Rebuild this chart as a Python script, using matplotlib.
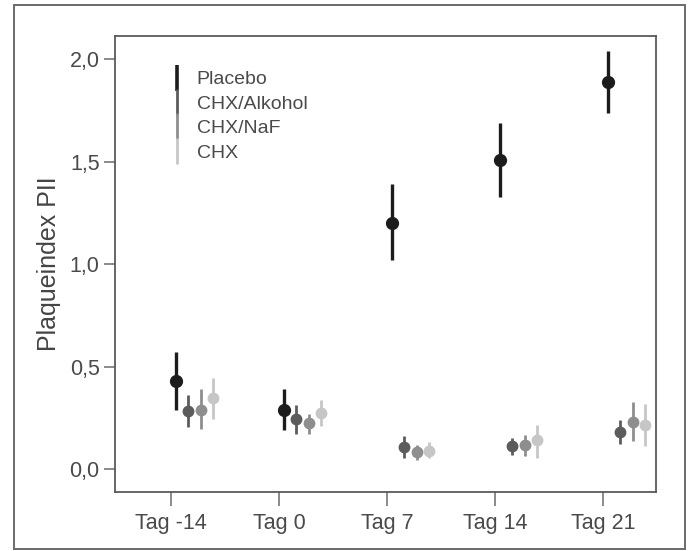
import numpy as np
import matplotlib
matplotlib.use("Agg")
import matplotlib.pyplot as plt
from matplotlib.patches import Rectangle
from matplotlib.lines import Line2D

plt.rcParams['font.family'] = ['Liberation Sans', 'DejaVu Sans']

# --- Daten ---
tage = ["Tag -14", "Tag 0", "Tag 7", "Tag 14", "Tag 21"]
gruppen = ["Placebo", "CHX/Alkohol", "CHX/NaF", "CHX"]

placebo = [0.43, 0.29, 1.20, 1.51, 1.89]
placebo_lo = [0.29, 0.19, 1.02, 1.33, 1.74]
placebo_hi = [0.57, 0.39, 1.39, 1.69, 2.04]

alkohol = [0.285, 0.245, 0.105, 0.11, 0.18]
alkohol_lo = [0.205, 0.17, 0.055, 0.07, 0.12]
alkohol_hi = [0.36, 0.31, 0.16, 0.15, 0.24]

naf = [0.29, 0.225, 0.085, 0.115, 0.23]
naf_lo = [0.195, 0.17, 0.045, 0.065, 0.135]
naf_hi = [0.39, 0.27, 0.115, 0.165, 0.325]

chx = [0.345, 0.275, 0.09, 0.14, 0.215]
chx_lo = [0.245, 0.21, 0.055, 0.055, 0.11]
chx_hi = [0.445, 0.335, 0.13, 0.215, 0.315]

farben = ["#1c1c1c", "#5c5c5c", "#8e8e8e", "#c6c6c6"]
versatz = [0.046, 0.16, 0.275, 0.39]

serien = [(placebo, placebo_lo, placebo_hi),
          (alkohol, alkohol_lo, alkohol_hi),
          (naf, naf_lo, naf_hi),
          (chx, chx_lo, chx_hi)]

fig = plt.figure(figsize=(6.9, 5.51), dpi=100)
ax = fig.add_axes([0.1667, 0.1076, 0.784, 0.827])

# äußerer Rahmen
fig.patches.append(Rectangle((0.02, 0.004), 0.973, 0.987, transform=fig.transFigure,
                             fill=False, edgecolor="#6a6a6a", linewidth=1.4))

x = np.arange(len(tage))
for i, (m, lo, hi) in enumerate(serien):
    m = np.array(m)
    err = np.vstack([m - np.array(lo), np.array(hi) - m])
    ax.errorbar(x + versatz[i], m, yerr=err, fmt="o", color=farben[i],
                ecolor=farben[i], elinewidth=2.4 if i == 0 else 2.0,
                markersize=8.5 if i == 0 else 7.5, capsize=0,
                label=gruppen[i], zorder=3 + i)

ax.set_xlim(-0.52, 4.49)
ax.set_ylim(-0.111, 2.114)
ax.set_xticks(x)
ax.set_xticklabels(tage)
ax.set_yticks([0.0, 0.5, 1.0, 1.5, 2.0])
ax.set_yticklabels(["0,0", "0,5", "1,0", "1,5", "2,0"])
ax.set_ylabel("Plaqueindex PII", fontsize=18, color="#444444", labelpad=6)

for s in ax.spines.values():
    s.set_color("#5a5a5a")
    s.set_linewidth(1.3)
ax.tick_params(axis="both", colors="#777777", labelcolor="#4a4a4a", labelsize=15.5,
               width=1.2)
ax.tick_params(axis="y", length=8, pad=3)
ax.tick_params(axis="x", length=10, pad=5)

# Legende: senkrechte Balken wie im Original
proxies = [Line2D([], [], linestyle="none", marker="|", markersize=19,
                  markeredgewidth=2.6 if i == 0 else 2.0, color=c)
           for i, c in enumerate(farben)]
ax.legend(proxies, gruppen, loc="upper left", bbox_to_anchor=(0.068, 0.962),
          frameon=False, fontsize=14, labelcolor="#4a4a4a", numpoints=1,
          handlelength=0.8, handletextpad=0.6, labelspacing=0.35)

fig.savefig("out.png", dpi=100)
